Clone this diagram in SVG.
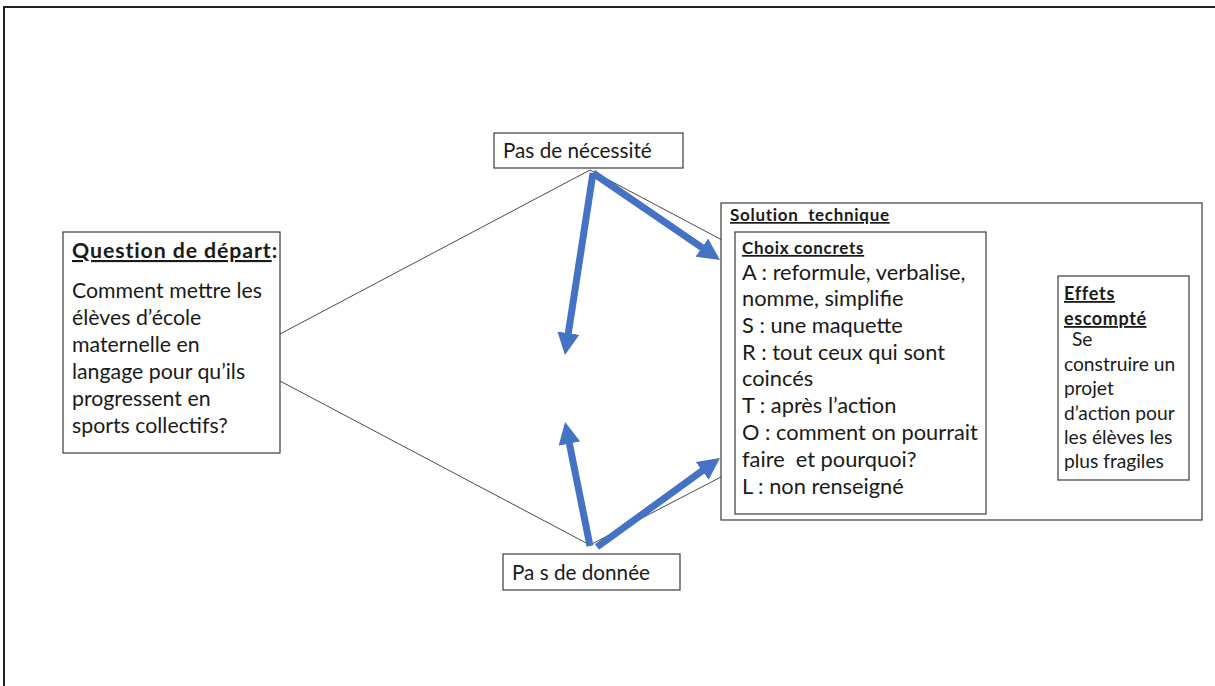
<svg xmlns="http://www.w3.org/2000/svg" width="1215" height="686" viewBox="0 0 1215 686">
<defs>
<style>
.box{fill:#fff;stroke:#3a3a3a;stroke-width:1.2}
.t{font-family:Lato,"Open Sans","Liberation Sans",sans-serif;fill:#1a1a1a}
.q{font-size:21.3px}
.pas{font-size:20.7px}
.mid{font-size:21.8px}
.small{font-size:19.2px}
.b{font-weight:bold}
.u{text-decoration:underline}
.thin{stroke:#4a4a4a;stroke-width:1;fill:none}
.blue{stroke:#4472C4;stroke-width:7;fill:none}
</style>
<marker id="ah" viewBox="0 0 22 22" markerWidth="22" markerHeight="22" markerUnits="userSpaceOnUse" refX="2" refY="11" orient="auto">
<path d="M0,0 L22,11 L0,22 z" fill="#4472C4"/>
</marker>
</defs>
<rect width="1215" height="686" fill="#fff"/>
<rect x="4" y="7" width="1300" height="800" fill="none" stroke="#222" stroke-width="2"/>

<g id="connectors">
<line class="thin" x1="280" y1="334" x2="590" y2="170"/>
<line class="thin" x1="590" y1="170" x2="722" y2="240"/>
<line class="thin" x1="280" y1="381" x2="590" y2="545"/>
<line class="thin" x1="590" y1="545" x2="721" y2="477"/>
<line class="blue" x1="593" y1="173" x2="703.5" y2="248.7" marker-end="url(#ah)"/>
<line class="blue" x1="593" y1="173" x2="568" y2="335.2" marker-end="url(#ah)"/>
<line class="blue" x1="590" y1="546" x2="569" y2="441.6" marker-end="url(#ah)"/>
<line class="blue" x1="597" y1="547" x2="703.8" y2="469.7" marker-end="url(#ah)"/>
<polygon points="1002,344 1023,344 1023,331 1046,359 1023,388 1023,375 1002,375" fill="#4472C4" stroke="#3a62ad" stroke-width="1"/>
</g>

<g id="question">
<rect class="box" x="63" y="232" width="217" height="221"/>
<text class="t q b" x="72" y="258" letter-spacing="0.9"><tspan class="u">Question de départ</tspan>:</text>
<text class="t q" x="72" y="298">Comment mettre les</text>
<text class="t q" x="72" y="325">élèves d’école</text>
<text class="t q" x="72" y="352">maternelle en</text>
<text class="t q" x="72" y="379">langage pour qu’ils</text>
<text class="t q" x="72" y="406">progressent en</text>
<text class="t q" x="72" y="433">sports collectifs?</text>
</g>

<g id="pas-necessite">
<rect class="box" x="494" y="133" width="189" height="35"/>
<text class="t pas" x="503" y="158">Pas de nécessité</text>
</g>

<g id="pas-donnee">
<rect class="box" x="503" y="554" width="177" height="36"/>
<text class="t pas" x="512" y="580">Pa s de donnée</text>
</g>

<g id="solution">
<rect class="box" x="721" y="203" width="481" height="317"/>
<text class="t b u" font-size="17" letter-spacing="0.7" x="730" y="221">Solution&#160; technique</text>
</g>

<g id="choix">
<rect class="box" x="735" y="232" width="251" height="282"/>
<text class="t b u" font-size="17" letter-spacing="0.7" x="742" y="254">Choix concrets</text>
<text class="t mid" x="742" y="280">A : reformule, verbalise,</text>
<text class="t mid" x="742" y="306">nomme, simplifie</text>
<text class="t mid" x="742" y="333">S : une maquette</text>
<text class="t mid" x="742" y="360">R : tout ceux qui sont</text>
<text class="t mid" x="742" y="386">coincés</text>
<text class="t mid" x="742" y="413">T : après l’action</text>
<text class="t mid" x="742" y="440">O : comment on pourrait</text>
<text class="t mid" x="742" y="467">faire&#160; et pourquoi?</text>
<text class="t mid" x="742" y="494">L : non renseigné</text>
</g>

<g id="effets">
<rect class="box" x="1058" y="276" width="131" height="204"/>
<text class="t b u" font-size="18" letter-spacing="0.7" x="1064" y="300">Effets</text>
<text class="t b u" font-size="18" letter-spacing="0.6" x="1064" y="325">escompté</text>
<text class="t small" x="1072" y="346">Se</text>
<text class="t small" x="1064" y="371">construire un</text>
<text class="t small" x="1064" y="395">projet</text>
<text class="t small" x="1064" y="420">d’action pour</text>
<text class="t small" x="1064" y="444">les élèves les</text>
<text class="t small" x="1064" y="468">plus fragiles</text>
</g>
</svg>
